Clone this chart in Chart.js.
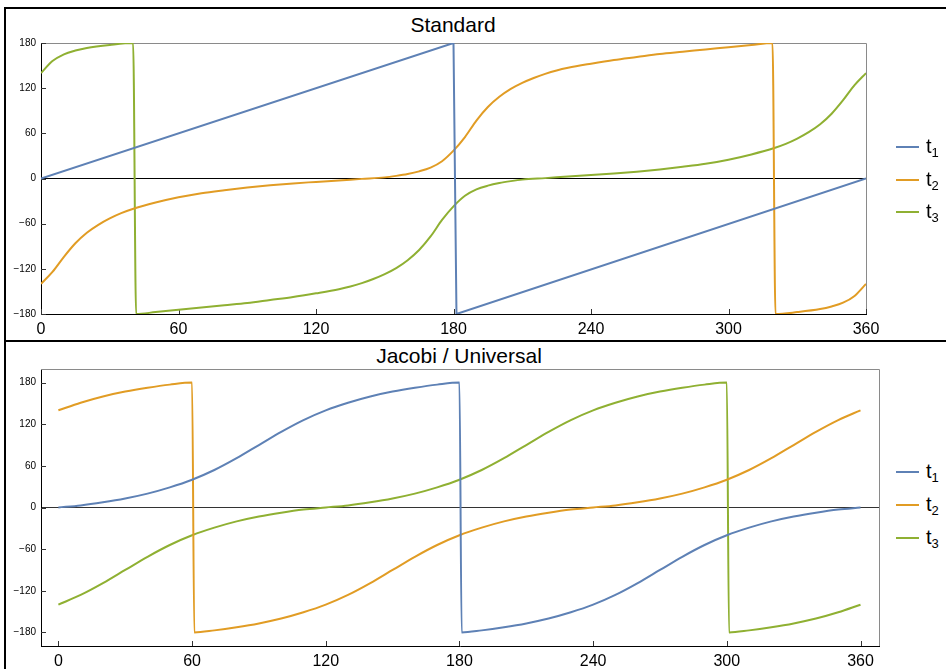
<!DOCTYPE html>
<html>
<head>
<meta charset="utf-8">
<script src="https://cdn.jsdelivr.net/npm/chart.js@4.4.1/dist/chart.umd.min.js"></script>
<style>
  body { margin: 0; background: #fff; width: 946px; height: 669px; overflow: hidden; position: relative;
         font-family: 'Liberation Sans', Arial, sans-serif; color: #000; }
  .frame { position: absolute; left: 4px; top: 7px; width: 960px; height: 700px;
           border-left: 2px solid #000; border-top: 2px solid #000; }
  .divider { position: absolute; left: 4px; top: 340px; width: 960px; height: 2px; background: #000; }
  .title { position: absolute; font-size: 21px; line-height: 1; white-space: nowrap; transform: translateX(-50%); }
  canvas { position: absolute; left: 0; }
  .legend-item { position: absolute; left: 896px; height: 0; }
  .legend-item .swatch { position: absolute; left: 0; top: -1px; width: 23px; height: 2px; }
  .legend-item .label { position: absolute; left: 30px; top: -11px; font-size: 20px; line-height: 1; white-space: nowrap; }
  .legend-item sub { font-size: 13px; vertical-align: -4px; line-height: 0; }
</style>
</head>
<body>
<div class="frame"></div>
<div class="divider"></div>
<div class="title" style="left:453px; top:14px;">Standard</div>
<div class="title" style="left:459px; top:345px;">Jacobi / Universal</div>
<canvas id="stdChart" width="900" height="338" style="top:0;"></canvas>
<canvas id="jacChart" width="895" height="326" style="top:343px;"></canvas>
<div id="legends"></div>

<script>
const seriesNames = ['1', '2', '3'];
const seriesColors = ['#5E81B5', '#E19C24', '#8FB032'];
const xTicks = [0, 60, 120, 180, 240, 300, 360];
const yTicks = [-180, -120, -60, 0, 60, 120, 180];

// Standard
const stdT1X = [0, 180, 181.3, 360];
const stdT1Y = [0, 180, -180, 0];
const stdT2X = [0, 5, 10, 15, 20, 25, 30, 35, 40, 50, 60, 70, 80, 90, 100, 110, 120, 130, 140, 150,
  155, 160, 165, 170, 175, 180, 185, 190, 195, 200, 205, 210, 215, 220, 225, 230, 240, 250, 260, 270,
  280, 290, 300, 310, 319.2, 320.5, 330, 340, 345, 350, 355, 360];
const stdT2Y = [-140, -124, -104, -86, -72, -61.5, -53, -46, -40.5, -32, -25, -19.5, -15.5, -12, -9, -6.5, -4.5, -2.5, -0.5, 1.5,
  3.5, 6, 9.5, 14.5, 23, 37, 55, 77, 95, 108.5, 119, 127, 133.5, 139, 143.5, 147, 152.5, 157.5, 161.5, 165.5,
  168.5, 171.5, 174.5, 177.5, 180, -180, -177.5, -173.5, -170, -165, -156, -140];
const stdT3X = [0, 5, 10, 15, 20, 30, 40.2, 41.5, 50, 60, 70, 80, 90, 100, 110, 120, 130, 135, 140, 145,
  150, 155, 160, 165, 170, 175, 180, 185, 190, 195, 200, 205, 210, 220, 230, 240, 250, 260, 270, 280,
  290, 300, 310, 320, 325, 330, 335, 340, 345, 350, 355, 360];
const stdT3Y = [140, 156, 165, 170, 173.5, 177.5, 180, -180, -177.5, -174.5, -171.5, -168.5, -165.5, -161.5, -157.5, -152.5, -147, -143.5, -139, -133.5,
  -127, -119, -108.5, -95, -77, -55, -37, -23, -14.5, -9.5, -6, -3.5, -1.5, 0.5, 2.5, 4.5, 6.5, 9, 12, 15.5,
  19.5, 25, 32, 40.5, 46, 53, 61.5, 72, 86, 104, 124, 140];

// Jacobi / Universal
const jacT1X = [0, 10, 20, 30, 40, 50, 60, 70, 80, 90, 100, 110, 120, 130, 140, 150, 160, 170, 180,
  181, 190, 200, 210, 220, 230, 240, 250, 260, 270, 280, 290, 300, 310, 320, 330, 340, 350, 360];
const jacT1Y = [0, 3, 7.5, 13, 20, 29, 40, 54, 71, 90, 109, 126, 140, 151, 160, 167, 172.5, 177, 180,
  -180, -177, -172.5, -167, -160, -151, -140, -126, -109, -90, -71, -54, -40, -29, -20, -13, -7.5, -3, 0];
const jacT2X = [0, 10, 20, 30, 40, 50, 60, 61, 70, 80, 90, 100, 110, 120, 130, 140, 150, 160, 170, 180,
  190, 200, 210, 220, 230, 240, 250, 260, 270, 280, 290, 300, 310, 320, 330, 340, 350, 360];
const jacT2Y = [140, 151, 160, 167, 172.5, 177, 180, -180, -177, -172.5, -167, -160, -151, -140, -126, -109, -90, -71, -54, -40,
  -29, -20, -13, -7.5, -3, 0, 3, 7.5, 13, 20, 29, 40, 54, 71, 90, 109, 126, 140];
const jacT3X = [0, 10, 20, 30, 40, 50, 60, 70, 80, 90, 100, 110, 120, 130, 140, 150, 160, 170, 180, 190,
  200, 210, 220, 230, 240, 250, 260, 270, 280, 290, 300, 301, 310, 320, 330, 340, 350, 360];
const jacT3Y = [-140, -126, -109, -90, -71, -54, -40, -29, -20, -13, -7.5, -3, 0, 3, 7.5, 13, 20, 29, 40, 54,
  71, 90, 109, 126, 140, 151, 160, 167, 172.5, 177, 180, -180, -177, -172.5, -167, -160, -151, -140];

function toPoints(xs, ys) {
  return xs.map((x, i) => ({ x: x, y: ys[i] }));
}

function makeDataset(i, xs, ys, straight) {
  return {
    label: 't' + seriesNames[i],
    data: toPoints(xs, ys),
    borderColor: seriesColors[i],
    borderWidth: 2,
    pointRadius: 0,
    tension: 0,
    cubicInterpolationMode: straight ? 'default' : 'monotone'
  };
}

// frame on top/right and the small inward tick marks
const frameTicks = {
  id: 'frameTicks',
  beforeDatasetsDraw(chart) {
    const { ctx, chartArea: a, scales: { x, y } } = chart;
    ctx.save();
    ctx.lineWidth = 1;
    ctx.strokeStyle = '#8a8a8a';
    ctx.beginPath();
    ctx.moveTo(a.left, Math.round(a.top) + 0.5);
    ctx.lineTo(Math.round(a.right) + 0.5, Math.round(a.top) + 0.5);
    ctx.lineTo(Math.round(a.right) + 0.5, a.bottom);
    ctx.stroke();
    ctx.strokeStyle = '#333';
    ctx.beginPath();
    x.ticks.forEach(t => {
      const px = Math.round(x.getPixelForValue(t.value)) + 0.5;
      ctx.moveTo(px, a.bottom);
      ctx.lineTo(px, a.bottom - 5);
    });
    y.ticks.forEach(t => {
      const py = Math.round(y.getPixelForValue(t.value)) + 0.5;
      ctx.moveTo(a.left, py);
      ctx.lineTo(a.left + 5, py);
    });
    ctx.stroke();
    ctx.restore();
  }
};

function makeChart(id, datasets, xRange, yRange, padding, axisHeight, zeroColor) {
  return new Chart(document.getElementById(id), {
    type: 'line',
    data: { datasets: datasets },
    plugins: [frameTicks],
    options: {
      responsive: false,
      devicePixelRatio: 1,
      animation: false,
      layout: { padding: padding },
      plugins: { legend: { display: false }, title: { display: false }, tooltip: { enabled: false } },
      scales: {
        x: {
          type: 'linear',
          min: xRange[0],
          max: xRange[1],
          afterBuildTicks: s => { s.ticks = xTicks.map(v => ({ value: v })); },
          afterFit: s => { s.height = axisHeight; },
          grid: { display: false, drawTicks: false },
          border: { display: true, color: '#000', width: 1 },
          ticks: {
            color: '#000',
            padding: 6,
            maxRotation: 0,
            autoSkip: false,
            font: { family: "'Liberation Sans Narrow', 'Liberation Sans', Arial", size: 16 }
          }
        },
        y: {
          type: 'linear',
          min: yRange[0],
          max: yRange[1],
          afterBuildTicks: s => { s.ticks = yTicks.map(v => ({ value: v })); },
          afterFit: s => { s.width = 41; },
          grid: {
            drawTicks: false,
            lineWidth: 1,
            color: c => (c.tick && c.tick.value === 0 ? zeroColor : 'rgba(0,0,0,0)')
          },
          border: { display: true, color: '#000', width: 1 },
          ticks: {
            color: '#000',
            padding: 5,
            font: { family: "'Liberation Sans', Arial", size: 10 },
            callback: v => (v < 0 ? '\u2212' + Math.abs(v) : String(v))
          }
        }
      }
    }
  });
}

function addLegend(centers) {
  const box = document.getElementById('legends');
  centers.forEach((cy, i) => {
    const item = document.createElement('div');
    item.className = 'legend-item';
    item.style.top = cy + 'px';
    item.innerHTML = `
      <span class="swatch" style="background:${seriesColors[i]}"></span>
      <span class="label">t<sub>${seriesNames[i]}</sub></span>
    `;
    box.appendChild(item);
  });
}

makeChart('stdChart', [
  makeDataset(0, stdT1X, stdT1Y, true),
  makeDataset(1, stdT2X, stdT2Y),
  makeDataset(2, stdT3X, stdT3Y)
], [0, 360], [-180, 180], { left: 0, top: 43, right: 34, bottom: 0 }, 24, '#000');

makeChart('jacChart', [
  makeDataset(0, jacT1X, jacT1Y),
  makeDataset(1, jacT2X, jacT2Y),
  makeDataset(2, jacT3X, jacT3Y)
], [-7.8, 368.3], [-199.5, 199.5], { left: 0, top: 26, right: 16, bottom: 0 }, 23, '#333');

addLegend([147, 180, 212]);
addLegend([472, 505, 538]);
</script>
</body>
</html>
